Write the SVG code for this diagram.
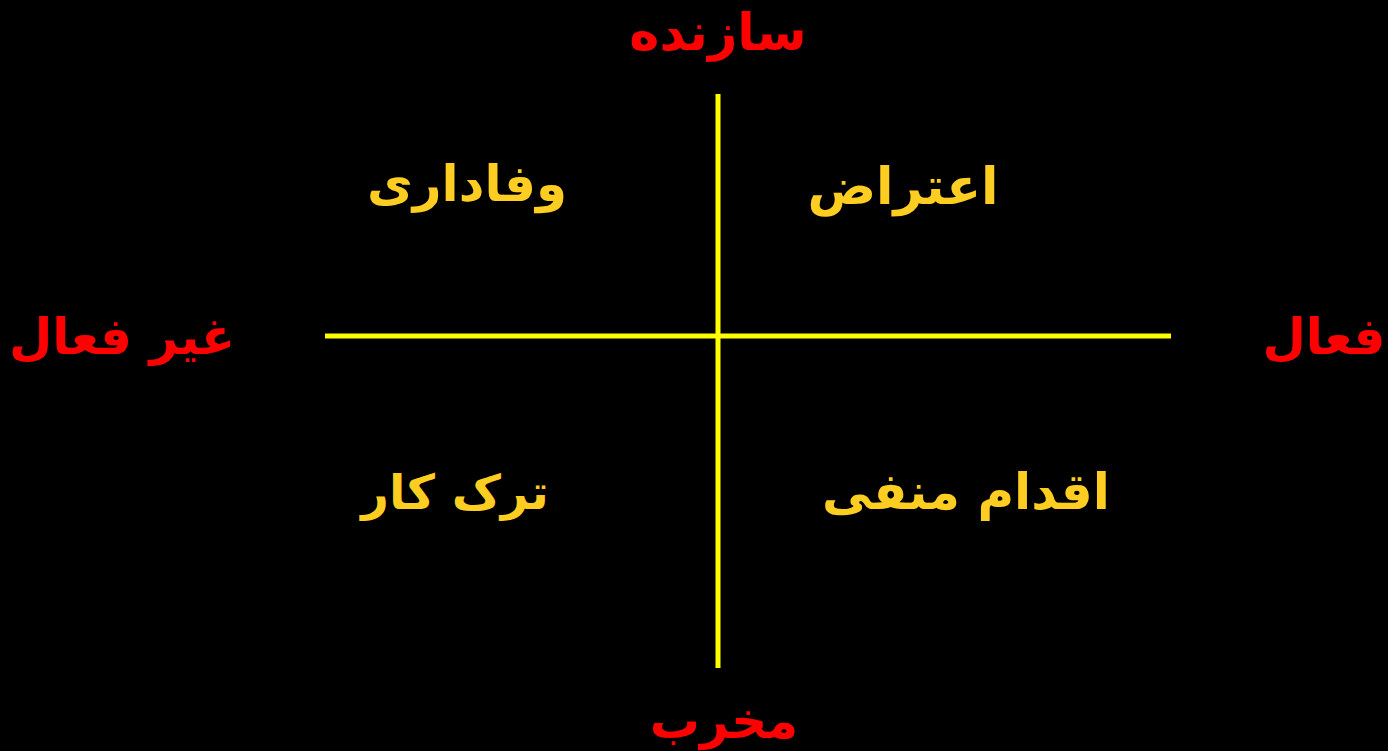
<svg xmlns="http://www.w3.org/2000/svg" width="1388" height="751" viewBox="0 0 1388 751">
<style>
text{font-family:"DejaVu Sans","Noto Sans",sans-serif;font-weight:bold;text-anchor:middle;direction:rtl}
.axis{fill:#FF0000;font-size:50px}
.q{fill:#FDCD22;font-size:50px}
.ln{stroke:#FFFF00;stroke-width:5;fill:none}
</style>
<rect width="1388" height="751" fill="#000"/>
<g id="connectors">
<line class="ln" x1="718" y1="94" x2="718" y2="668"/>
<line class="ln" x1="325" y1="336" x2="1171" y2="336"/>
</g>
<g id="top"><text class="axis" x="718" y="50" style="font-size:51px">سازنده</text></g>
<g id="bottom"><text class="axis" x="724" y="738">مخرب</text></g>
<g id="left"><text class="axis" x="122" y="354">غیر فعال</text></g>
<g id="right"><text class="axis" x="1324" y="354">فعال</text></g>
<g id="q1"><text class="q" x="467" y="201">وفاداری</text></g>
<g id="q2"><text class="q" x="903" y="204" style="font-size:51px">اعتراض</text></g>
<g id="q3"><text class="q" x="455" y="509" style="font-size:48px">ترک کار</text></g>
<g id="q4"><text class="q" x="966" y="509">اقدام منفی</text></g>
</svg>
